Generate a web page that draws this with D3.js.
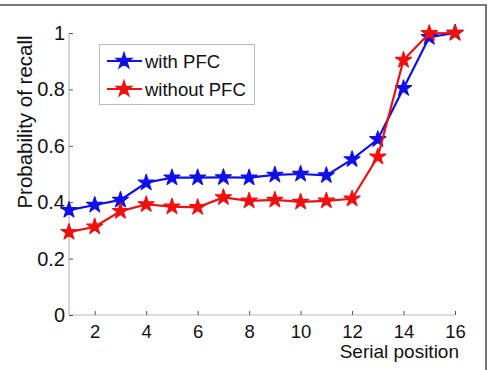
<!DOCTYPE html>
<html><head><meta charset="utf-8">
<script src="https://cdn.jsdelivr.net/npm/d3@7"></script>
<style>body{margin:0;background:#fff}svg{display:block}text{font-family:"Liberation Sans",Arial,sans-serif;fill:#111}</style>
</head><body>
<script>
const positions = [1,2,3,4,5,6,7,8,9,10,11,12,13,14,15,16];
const withPFC = [0.372,0.390,0.408,0.469,0.487,0.487,0.488,0.487,0.497,0.500,0.495,0.552,0.623,0.804,0.985,1.0];
const withoutPFC = [0.294,0.313,0.368,0.392,0.384,0.382,0.417,0.405,0.408,0.401,0.405,0.412,0.561,0.904,0.999,1.0];
const xTicks = [2,4,6,8,10,12,14,16];
const yTicks = [0,0.2,0.4,0.6,0.8,1];
const seriesNames = ["with PFC","without PFC"];
const colors = ["#1010e8","#f01010"];

const W=491,H=370;
const svg=d3.select("body").append("svg").attr("width",W).attr("height",H);
// frame
svg.append("line").attr("x1",0).attr("x2",487).attr("y1",5).attr("y2",5).attr("stroke","#777").attr("stroke-width",2);
svg.append("line").attr("x1",486).attr("x2",486).attr("y1",5).attr("y2",H).attr("stroke","#777").attr("stroke-width",2);

const x=d3.scaleLinear().domain([1,16]).range([69,455]);
const y=d3.scaleLinear().domain([0,1]).range([315,33]);

// axis lines
svg.append("line").attr("x1",69).attr("x2",69).attr("y1",y(1)).attr("y2",y(0)).attr("stroke","#bbb").attr("stroke-width",1.2);
svg.append("line").attr("x1",69).attr("x2",x(16)).attr("y1",y(0)).attr("y2",y(0)).attr("stroke","#bbb").attr("stroke-width",1.2);

const xa=svg.append("g").attr("transform",`translate(0,${y(0)})`)
  .call(d3.axisBottom(x).tickValues(xTicks).tickSize(-4));
xa.select(".domain").remove();
xa.selectAll("line").attr("stroke","#555");
xa.selectAll("text").attr("font-size",18.5).attr("y",23).attr("dy",0).style("font-family","'Liberation Sans',Arial,sans-serif").attr("fill","#111");

const ya=svg.append("g").attr("transform",`translate(69,0)`)
  .call(d3.axisLeft(y).tickValues(yTicks).tickFormat(d=>d===0?"0":d===1?"1":d3.format(".1f")(d)).tickSize(-4).tickPadding(4));
ya.select(".domain").remove();
ya.selectAll("line").attr("stroke","#555");
ya.selectAll("text").attr("font-size",20).style("font-family","'Liberation Sans',Arial,sans-serif").attr("fill","#111");

svg.append("text").attr("x",459).attr("y",358).attr("text-anchor","end").attr("font-size",19).text("Serial position");
svg.append("text").attr("transform","translate(32,122) rotate(-90)").attr("text-anchor","middle").attr("font-size",20.5).text("Probability of recall");

const star=d3.symbol().type(d3.symbolStar).size(80);
const data=[withPFC,withoutPFC];
const line=d3.line().x((d,i)=>x(positions[i])).y(d=>y(d));
data.forEach((vals,k)=>{
  const g=svg.append("g");
  g.append("path").attr("d",line(vals)).attr("fill","none").attr("stroke",colors[k]).attr("stroke-width",2.2);
  g.selectAll("path.m").data(vals).enter().append("path").attr("class","m")
    .attr("d",star).attr("transform",(d,i)=>`translate(${x(positions[i])},${y(d)})`)
    .attr("fill",colors[k]).attr("stroke",colors[k]).attr("stroke-width",1.2).attr("stroke-linejoin","round");
});

// legend
const lg=svg.append("g");
lg.append("rect").attr("x",99.5).attr("y",44.5).attr("width",155).attr("height",60).attr("fill","#fff").attr("stroke","#bbb");
seriesNames.forEach((n,k)=>{
  const yy=61+k*28;
  lg.append("line").attr("x1",107).attr("x2",142).attr("y1",yy).attr("y2",yy).attr("stroke",colors[k]).attr("stroke-width",2.2);
  lg.append("path").attr("d",star).attr("transform",`translate(124,${yy})`).attr("fill",colors[k]).attr("stroke",colors[k]).attr("stroke-width",1.2);
  lg.append("text").attr("x",145).attr("y",yy+7).attr("font-size",18.5).text(n);
});
</script>
</body></html>
